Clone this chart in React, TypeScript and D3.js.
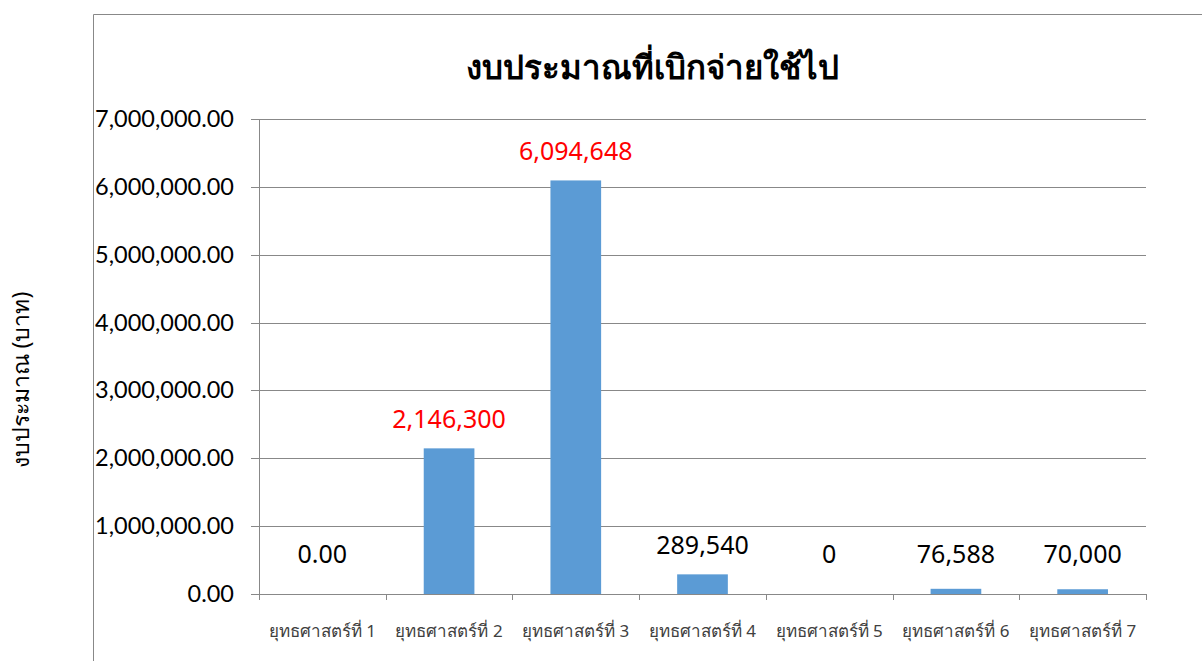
import React from "react";
import * as d3 from "d3";

const categories = ["ยุทธศาสตร์ที่ 1", "ยุทธศาสตร์ที่ 2", "ยุทธศาสตร์ที่ 3", "ยุทธศาสตร์ที่ 4", "ยุทธศาสตร์ที่ 5", "ยุทธศาสตร์ที่ 6", "ยุทธศาสตร์ที่ 7"];
const values = [0, 2146300, 6094648, 289540, 0, 76588, 70000];
const labels = ["0.00", "2,146,300", "6,094,648", "289,540", "0", "76,588", "70,000"];
const labelColors = ["#000000", "#FF0000", "#FF0000", "#000000", "#000000", "#000000", "#000000"];
const yTicks = [0, 1000000, 2000000, 3000000, 4000000, 5000000, 6000000, 7000000];
const title = "งบประมาณที่เบิกจ่ายใช้ไป";
const yTitle = "งบประมาณ (บาท)";

export default function App() {
  const W = 1202, H = 661;
  const left = 259, right = 1146, top = 119, bottom = 594;
  const x = d3.scaleBand<string>().domain(categories).range([left, right]).paddingInner(0.6).paddingOuter(0.3);
  const xb = d3.scaleBand<string>().domain(categories).range([left, right]);
  const y = d3.scaleLinear().domain([0, 7000000]).range([bottom, top]);
  const fmt = d3.format(",.2f");
  const numFont = "Lato, 'Open Sans', sans-serif";
  const thaiFont = "'Noto Sans', 'DejaVu Sans', sans-serif";
  return (
    <svg width={W} height={H} style={{ position: "absolute", left: 0, top: 0 }}>
      <rect x={0} y={0} width={W} height={H} fill="#fff" />
      <line x1={93.5} y1={14.5} x2={W} y2={14.5} stroke="#888" />
      <line x1={93.5} y1={14.5} x2={93.5} y2={H} stroke="#888" />
      <text x={652} y={79} textAnchor="middle" fontSize={33} fontWeight="bold" fontFamily={thaiFont}>{title}</text>
      {yTicks.map((t) => (
        <g key={t}>
          <line x1={251} x2={right} y1={Math.round(y(t)) + 0.5} y2={Math.round(y(t)) + 0.5} stroke="#888" />
          <text x={234} y={y(t) + 8} textAnchor="end" fontSize={23.5} fontFamily={numFont}>{fmt(t)}</text>
        </g>
      ))}
      <line x1={left + 0.5} x2={left + 0.5} y1={top} y2={bottom} stroke="#888" />
      {categories.map((c) => (
        <line key={"t" + c} x1={Math.round(xb(c)!) + 0.5} x2={Math.round(xb(c)!) + 0.5} y1={bottom} y2={bottom + 6} stroke="#888" />
      ))}
      <line x1={right + 0.5} x2={right + 0.5} y1={bottom} y2={bottom + 6} stroke="#888" />
      {categories.map((c, i) => (
        <rect key={"b" + c} x={x(c)} y={y(values[i])} width={x.bandwidth()} height={bottom - y(values[i])} fill="#5B9BD5" />
      ))}
      {categories.map((c, i) => (
        <text key={"l" + c} x={xb(c)! + xb.bandwidth() / 2} y={Math.min(y(values[i]) - 20, 563)} textAnchor="middle" fontSize={25} fill={labelColors[i]} fontFamily={thaiFont}>{labels[i]}</text>
      ))}
      {categories.map((c) => (
        <text key={"c" + c} x={xb(c)! + xb.bandwidth() / 2} y={637} textAnchor="middle" fontSize={17} fill="#404040" fontFamily={thaiFont}>{c}</text>
      ))}
      <text transform={`translate(29,380) rotate(-90)`} textAnchor="middle" fontSize={23} fontFamily={thaiFont}>{yTitle}</text>
    </svg>
  );
}
